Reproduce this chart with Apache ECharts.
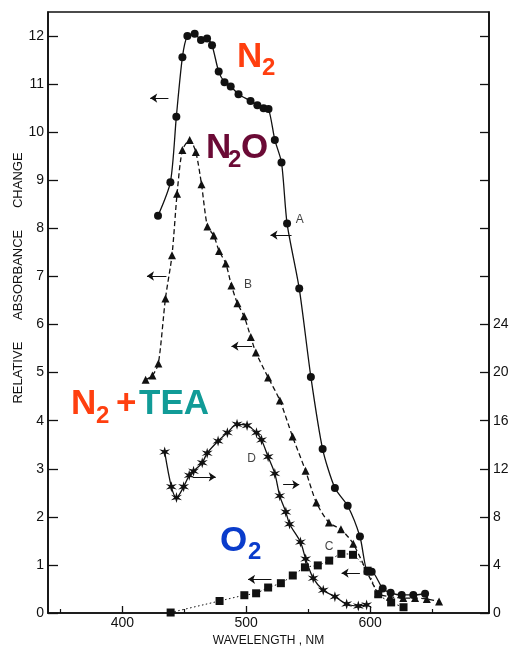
<!DOCTYPE html>
<html><head><meta charset="utf-8">
<script src="https://cdn.jsdelivr.net/npm/echarts@6/dist/echarts.min.js"></script>
<style>html,body{margin:0;padding:0;background:#fff}#c{width:512px;height:647px}</style>
</head><body><div id="c"></div>
<script>
// ---- data (wavelength nm, relative absorbance change) ----
const curveA_nm = [428.8,438.8,443.6,448.5,452.5,458.4,463.5,468.4,472.4,477.8,482.5,487.5,493.8,503.5,509,514,518,523.1,528.5,533,542.8,552.2,561.7,571.6,581.9,591.8,598,601.3,610.2,616.6,625.5,634.9,644.4];
const curveA_val = [8.26,8.96,10.32,11.56,12.0,12.05,11.92,11.95,11.81,11.26,11.04,10.95,10.79,10.65,10.56,10.5,10.48,9.84,9.37,8.1,6.75,4.91,3.41,2.6,2.23,1.59,0.86,0.86,0.51,0.42,0.375,0.375,0.4];

const curveB_nm = [418.8,424.3,429.1,434.8,440.1,444.2,448.5,454.4,459.3,463.9,468.7,473.8,478.1,483.5,488.1,492.9,498.3,503.7,507.8,517.7,527.2,537.4,547.9,556.6,566.8,576.5,586.4,606.6,616,626.8,636.3,645.8,655.7];
const curveB_val = [4.85,4.94,5.19,6.54,7.44,8.72,9.63,9.84,9.59,8.92,8.04,7.85,7.53,7.27,6.81,6.44,6.17,5.74,5.42,4.9,4.42,3.67,2.96,2.3,1.88,1.74,1.44,0.41,0.34,0.31,0.31,0.29,0.24];

const curveC_nm = [439,478.5,498.5,508,517.7,528,537.6,547.4,557.8,567,576.8,586.2,598,606.6,617,627];
const curveC_val = [0.01,0.25,0.37,0.41,0.53,0.62,0.78,0.95,0.99,1.09,1.23,1.21,0.88,0.39,0.22,0.12];

// curve D is read on the right-hand axis
const curveD_nm = [434.2,439.6,443.7,449.5,454,457.5,464.5,468.5,477.3,484.8,492.6,500.7,508.3,512.4,517.7,523.1,527.1,532,535,543.8,548,554.1,562.2,571.6,581.1,590.5,597.2];
const curveD_val = [13.4,10.5,9.6,10.5,11.45,11.8,12.5,13.3,14.3,15.0,15.7,15.6,15.0,14.4,13.0,11.6,9.75,8.4,7.4,5.9,4.5,2.9,1.9,1.36,0.75,0.58,0.67];

// axis ticks
const xLabelValues = [400,500,600];
const xMinorTicks = [350,450,550,650];

// arrows [from_nm, to_nm, level (left-axis units)]
const arrows = [[437.2,422.5,10.71],[435.6,419.9,7.01],[504.8,488.1,5.55],[536.6,519.6,7.86],[457.1,475.4,2.83],[529.8,542.8,2.67],[520.4,501.5,0.70],[591.8,577,0.83]];
// curve letters
const letters = [[543.3,8.17,'A'],[501.5,6.83,'B'],[567,1.38,'C'],[504.3,3.2,'D']];

const zip = (a,b) => a.map((v,i)=>[v,b[i]]);

// asterisk-like star path
function starPath(n, rOut, rIn){
  let d = '';
  for (let i=0;i<2*n;i++){
    const r = i%2===0 ? rOut : rIn;
    const a = Math.PI*i/n - Math.PI/2;
    d += (i===0?'M':'L') + (r*Math.cos(a)).toFixed(3) + ' ' + (r*Math.sin(a)).toFixed(3) + ' ';
  }
  return 'path://' + d + 'Z';
}

const ink = '#111';
const chart = echarts.init(document.getElementById('c'));
const font = 'Liberation Sans, Arial, sans-serif';

chart.setOption({
  animation:false,
  backgroundColor:'#fff',
  grid:{left:48,top:12,right:23,bottom:34,show:true,borderColor:ink,borderWidth:1.6,containLabel:false,outerBoundsMode:'none'},
  xAxis:[{
    type:'value',min:340,max:696,
    axisLine:{show:true,lineStyle:{color:ink,width:1.6}},
    axisTick:{show:true,inside:true,length:7,customValues:xLabelValues,lineStyle:{color:ink,width:1.3}},
    axisLabel:{customValues:xLabelValues,color:ink,fontSize:14,fontFamily:font,margin:3},
    splitLine:{show:false},
    name:'WAVELENGTH , NM',nameLocation:'middle',nameGap:21,
    nameTextStyle:{color:ink,fontSize:12,fontFamily:font}
  },{
    type:'value',min:340,max:696,position:'bottom',
    axisLine:{show:false},
    axisTick:{show:true,inside:true,length:4,customValues:xMinorTicks,lineStyle:{color:ink,width:1.2}},
    axisLabel:{show:false},splitLine:{show:false}
  }],
  yAxis:[{
    type:'value',min:0,max:12.5,interval:1,position:'left',
    axisLine:{show:true,lineStyle:{color:ink,width:1.6}},
    axisTick:{show:true,inside:true,length:10,lineStyle:{color:ink,width:1.3}},
    axisLabel:{color:ink,fontSize:14,fontFamily:font,margin:4,showMaxLabel:false},
    splitLine:{show:false}
  },{
    type:'value',min:0,max:50,interval:4,position:'right',
    axisLine:{show:true,lineStyle:{color:ink,width:1.6}},
    axisTick:{show:true,inside:true,length:9,lineStyle:{color:ink,width:1.3}},
    axisLabel:{color:ink,fontSize:14,fontFamily:font,margin:4,showMaxLabel:false,
      formatter:v=> v<=24 ? String(v) : ''},
    splitLine:{show:false}
  }],
  series:[
    {name:'A',type:'line',data:zip(curveA_nm,curveA_val),smooth:0.25,symbol:'circle',symbolSize:8,
     itemStyle:{color:ink},lineStyle:{color:ink,width:1.3},
     markLine:{silent:true,symbol:['none','arrow'],symbolSize:7,label:{show:false},
       lineStyle:{color:ink,width:1,type:'solid'},
       data:arrows.map(a=>[{coord:[a[0],a[2]]},{coord:[a[1],a[2]]}])}},
    {name:'B',type:'line',data:zip(curveB_nm,curveB_val),smooth:0.25,symbol:'triangle',symbolSize:8,
     itemStyle:{color:ink},lineStyle:{color:ink,width:1.3,type:[5,3]}},
    {name:'C',type:'line',data:zip(curveC_nm,curveC_val),smooth:0.2,symbol:'rect',symbolSize:8,
     itemStyle:{color:ink},lineStyle:{color:ink,width:1,type:[1.5,2.5]}},
    {name:'D',type:'line',yAxisIndex:1,data:zip(curveD_nm,curveD_val),smooth:0.3,symbol:starPath(6,1,0.35),symbolSize:11,
     itemStyle:{color:ink},lineStyle:{color:ink,width:1.3}},
    {name:'letters',type:'scatter',data:letters,symbolSize:1,itemStyle:{color:'rgba(0,0,0,0)'},
     label:{show:true,position:'inside',formatter:p=>p.value[2],color:ink,fontSize:12,fontFamily:font}}
  ],
  graphic:[
    {type:'text',x:18,y:278,rotation:Math.PI/2,style:{text:'RELATIVE      ABSORBANCE      CHANGE',fill:ink,font:'13px '+font,align:'center',verticalAlign:'middle'}},
    // N2
    {type:'text',x:237,y:57,style:{text:'N',fill:'#FF3F0F',font:'bold 35px '+font,verticalAlign:'middle'}},
    {type:'text',x:262,y:68,style:{text:'2',fill:'#FF3F0F',font:'bold 24px '+font,verticalAlign:'middle'}},
    // N2O
    {type:'text',x:206,y:148,style:{text:'N',fill:'#6B0A35',font:'bold 35px '+font,verticalAlign:'middle'}},
    {type:'text',x:228,y:160,style:{text:'2',fill:'#6B0A35',font:'bold 24px '+font,verticalAlign:'middle'}},
    {type:'text',x:241,y:148,style:{text:'O',fill:'#6B0A35',font:'bold 35px '+font,verticalAlign:'middle'}},
    // N2 + TEA
    {type:'text',x:71,y:404,style:{text:'N',fill:'#FF3F0F',font:'bold 35px '+font,verticalAlign:'middle'}},
    {type:'text',x:96,y:416,style:{text:'2',fill:'#FF3F0F',font:'bold 24px '+font,verticalAlign:'middle'}},
    {type:'text',x:116,y:404,style:{text:'+',fill:'#FF3F0F',font:'bold 35px '+font,verticalAlign:'middle'}},
    {type:'text',x:139,y:404,style:{text:'TEA',fill:'#119B97',font:'bold 35px '+font,verticalAlign:'middle'}},
    // O2
    {type:'text',x:220,y:541,style:{text:'O',fill:'#0A3CCB',font:'bold 35px '+font,verticalAlign:'middle'}},
    {type:'text',x:248,y:552,style:{text:'2',fill:'#0A3CCB',font:'bold 24px '+font,verticalAlign:'middle'}}
  ]
});
</script></body></html>
